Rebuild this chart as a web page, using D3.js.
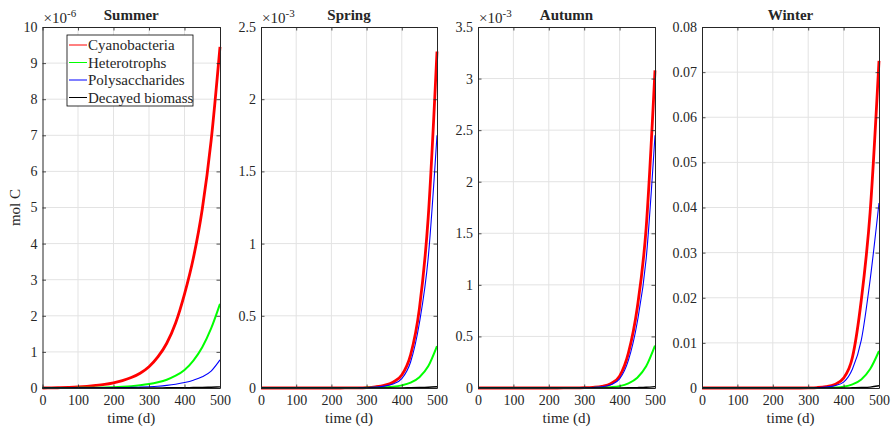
<!DOCTYPE html>
<html>
<head>
<meta charset="utf-8">
<script src="https://cdn.jsdelivr.net/npm/d3@7"></script>
<style>
  body { margin: 0; background: #fff; }
  text { font-family: "Liberation Serif", "Times New Roman", serif; fill: #262626; }
</style>
</head>
<body>
<div id="chart"></div>
<script>
// time samples (d)
var days = [0, 25, 50, 75, 100, 125, 150, 175, 200, 225, 250, 275, 300, 325, 350, 375, 400, 425, 450, 475, 500];

var seasons = ["Summer", "Spring", "Autumn", "Winter"];
var seriesNames = ["Cyanobacteria", "Heterotrophs", "Polysaccharides", "Decayed biomass"];
var seriesColors = ["#ff0000", "#00ff00", "#0000ff", "#000000"];
var seriesWidths = [2.8, 2, 1.1, 1.4];

// y axis settings per panel (values are in the panel's display units)
var yMaxes = [10, 2.5, 3.5, 0.08];
var yTicks = [
  [0, 1, 2, 3, 4, 5, 6, 7, 8, 9, 10],
  [0, 0.5, 1, 1.5, 2, 2.5],
  [0, 0.5, 1, 1.5, 2, 2.5, 3, 3.5],
  [0, 0.01, 0.02, 0.03, 0.04, 0.05, 0.06, 0.07, 0.08]
];
var exponents = ["-6", "-3", "-3", null];
var xTicks = [0, 100, 200, 300, 400, 500];

// Summer (x 1e-6 mol C)
var summerCyano = [0, 0.003, 0.009, 0.018, 0.03, 0.047, 0.07, 0.1, 0.145, 0.205, 0.29, 0.41, 0.59, 0.86, 1.24, 1.8, 2.6, 3.6, 4.95, 6.85, 9.45];
var summerHetero = [0, 0.001, 0.002, 0.003, 0.004, 0.006, 0.01, 0.015, 0.024, 0.036, 0.052, 0.076, 0.11, 0.16, 0.23, 0.34, 0.5, 0.76, 1.13, 1.65, 2.33];
var summerPoly = [0, 0, 0.001, 0.002, 0.003, 0.004, 0.005, 0.006, 0.008, 0.011, 0.016, 0.024, 0.035, 0.05, 0.072, 0.104, 0.15, 0.215, 0.31, 0.47, 0.78];
var summerDecay = [0, 0, 0, 0, 0, 0, 0, 0, 0.001, 0.001, 0.002, 0.002, 0.003, 0.004, 0.005, 0.007, 0.009, 0.012, 0.016, 0.022, 0.03];

// Spring (x 1e-3 mol C)
var springCyano = [0, 0, 0, 0, 0, 0, 0, 0, 0, 0, 0.0005, 0.001, 0.003, 0.008, 0.018, 0.04, 0.09, 0.23, 0.55, 1.18, 2.33];
var springHetero = [0, 0, 0, 0, 0, 0, 0, 0, 0, 0, 0, 0, 0.001, 0.002, 0.004, 0.008, 0.018, 0.037, 0.075, 0.15, 0.29];
var springPoly = [0, 0, 0, 0, 0, 0, 0, 0, 0, 0, 0, 0.0005, 0.002, 0.006, 0.013, 0.028, 0.065, 0.18, 0.45, 0.9, 1.75];
var springDecay = [0, 0, 0, 0, 0, 0, 0, 0, 0, 0, 0, 0, 0, 0, 0, 0.001, 0.001, 0.002, 0.003, 0.005, 0.009];

// Autumn (x 1e-3 mol C)
var autumnCyano = [0, 0, 0, 0, 0, 0, 0, 0, 0, 0, 0.0005, 0.001, 0.003, 0.007, 0.016, 0.042, 0.115, 0.34, 0.78, 1.55, 3.08];
var autumnHetero = [0, 0, 0, 0, 0, 0, 0, 0, 0, 0, 0, 0, 0, 0.001, 0.003, 0.008, 0.018, 0.045, 0.1, 0.21, 0.41];
var autumnPoly = [0, 0, 0, 0, 0, 0, 0, 0, 0, 0, 0, 0.0005, 0.002, 0.005, 0.012, 0.031, 0.088, 0.27, 0.64, 1.25, 2.45];
var autumnDecay = [0, 0, 0, 0, 0, 0, 0, 0, 0, 0, 0, 0, 0, 0, 0, 0.001, 0.001, 0.002, 0.004, 0.007, 0.013];

// Winter (mol C)
var winterCyano = [0, 0, 0, 0, 0, 0, 0, 0, 0, 0, 0, 0, 0.00003, 0.0001, 0.0003, 0.0008, 0.0022, 0.0068, 0.0195, 0.039, 0.0725];
var winterHetero = [0, 0, 0, 0, 0, 0, 0, 0, 0, 0, 0, 0, 0, 0, 0, 0.0001, 0.0003, 0.0008, 0.0019, 0.0042, 0.0082];
var winterPoly = [0, 0, 0, 0, 0, 0, 0, 0, 0, 0, 0, 0, 0, 0.00005, 0.0002, 0.0005, 0.0013, 0.0042, 0.0106, 0.024, 0.041];
var winterDecay = [0, 0, 0, 0, 0, 0, 0, 0, 0, 0, 0, 0, 0, 0, 0, 0, 0, 0.00005, 0.0001, 0.0002, 0.0005];

var panelSeries = [
  [summerCyano, summerHetero, summerPoly, summerDecay],
  [springCyano, springHetero, springPoly, springDecay],
  [autumnCyano, autumnHetero, autumnPoly, autumnDecay],
  [winterCyano, winterHetero, winterPoly, winterDecay]
];

// layout
var width = 893, height = 431;
var lefts = [42.5, 261, 478, 702];
var widths = [177.5, 176, 177, 177];
var plotTop = 27, plotBottom = 388;
var plotH = plotBottom - plotTop;
var tickLen = 3.5;
var axisColor = "#262626";
var gridColor = "#e3e3e3";

var svg = d3.select("#chart")
  .append("svg")
  .attr("width", width)
  .attr("height", height);

var fmt = function(d) { return String(+d.toFixed(3)); };

seasons.forEach(function(season, i) {
  var w = widths[i];
  var g = svg.append("g").attr("transform", "translate(" + lefts[i] + "," + plotTop + ")");

  var x = d3.scaleLinear().domain([0, 500]).range([0, w]);
  var y = d3.scaleLinear().domain([0, yMaxes[i]]).range([plotH, 0]);

  // grid
  g.append("g").selectAll("line")
    .data(xTicks.slice(1, -1))
    .enter().append("line")
    .attr("x1", d => x(d)).attr("x2", d => x(d))
    .attr("y1", 0).attr("y2", plotH)
    .attr("stroke", gridColor).attr("stroke-width", 1);
  g.append("g").selectAll("line")
    .data(yTicks[i].slice(1, -1))
    .enter().append("line")
    .attr("x1", 0).attr("x2", w)
    .attr("y1", d => y(d)).attr("y2", d => y(d))
    .attr("stroke", gridColor).attr("stroke-width", 1);

  // series lines
  var line = d3.line()
    .x((d, k) => x(days[k]))
    .y(d => y(d))
    .curve(d3.curveMonotoneX);

  panelSeries[i].forEach(function(vals, s) {
    g.append("path")
      .datum(vals)
      .attr("d", line)
      .attr("fill", "none")
      .attr("stroke", seriesColors[s])
      .attr("stroke-width", seriesWidths[s])
      .attr("stroke-linejoin", "round");
  });

  // axes (ticks inside, mirrored on top/right)
  var xAxis = g.append("g").attr("transform", "translate(0," + plotH + ")")
    .call(d3.axisBottom(x).tickValues(xTicks).tickSizeInner(-tickLen).tickSizeOuter(0).tickPadding(7).tickFormat(d3.format("d")));
  var yAxis = g.append("g")
    .call(d3.axisLeft(y).tickValues(yTicks[i]).tickSizeInner(-tickLen).tickSizeOuter(0).tickPadding(5).tickFormat(fmt));
  var xTop = g.append("g")
    .call(d3.axisTop(x).tickValues(xTicks).tickSizeInner(-tickLen).tickSizeOuter(0).tickFormat(""));
  var yRight = g.append("g").attr("transform", "translate(" + w + ",0)")
    .call(d3.axisRight(y).tickValues(yTicks[i]).tickSizeInner(-tickLen).tickSizeOuter(0).tickFormat(""));

  [xAxis, yAxis, xTop, yRight].forEach(function(a) {
    a.selectAll("path.domain").attr("stroke", axisColor).attr("stroke-width", 1);
    a.selectAll(".tick line").attr("stroke", axisColor).attr("stroke-width", 0.8);
    a.selectAll("text").attr("font-size", 14).attr("fill", axisColor)
      .style("font-family", "'Liberation Serif', serif");
  });

  // title
  g.append("text")
    .attr("x", w / 2).attr("y", -7)
    .attr("text-anchor", "middle")
    .attr("font-size", 15).attr("font-weight", "bold")
    .attr("fill", "#000")
    .text(season);

  // x label
  g.append("text")
    .attr("x", w / 2).attr("y", plotH + 35)
    .attr("text-anchor", "middle")
    .attr("font-size", 15)
    .text("time (d)");

  // exponent label
  if (exponents[i]) {
    var ex = g.append("text").attr("x", 1).attr("y", -4).attr("font-size", 15);
    ex.append("tspan").text("\u00d710");
    ex.append("tspan").attr("dy", -6).attr("font-size", 11).text(exponents[i]);
  }

  // legend only in the first panel
  if (i === 0) {
    var lg = g.append("g").attr("transform", "translate(24.5,8)");
    lg.append("rect")
      .attr("width", 126).attr("height", 71)
      .attr("fill", "#fff").attr("stroke", "#000").attr("stroke-width", 0.8);
    seriesNames.forEach(function(name, s) {
      var yy = 10 + s * 17.5;
      lg.append("line")
        .attr("x1", 2).attr("x2", 20)
        .attr("y1", yy).attr("y2", yy)
        .attr("stroke", seriesColors[s]).attr("stroke-width", 1);
      lg.append("text")
        .attr("x", 21).attr("y", yy + 5)
        .attr("font-size", 15).attr("fill", "#000")
        .text(name);
    });
  }
});

// y label
svg.append("text")
  .attr("transform", "translate(20," + ((plotTop + plotBottom) / 2) + ") rotate(-90)")
  .attr("text-anchor", "middle")
  .attr("font-size", 15)
  .text("mol C");
</script>
</body>
</html>
